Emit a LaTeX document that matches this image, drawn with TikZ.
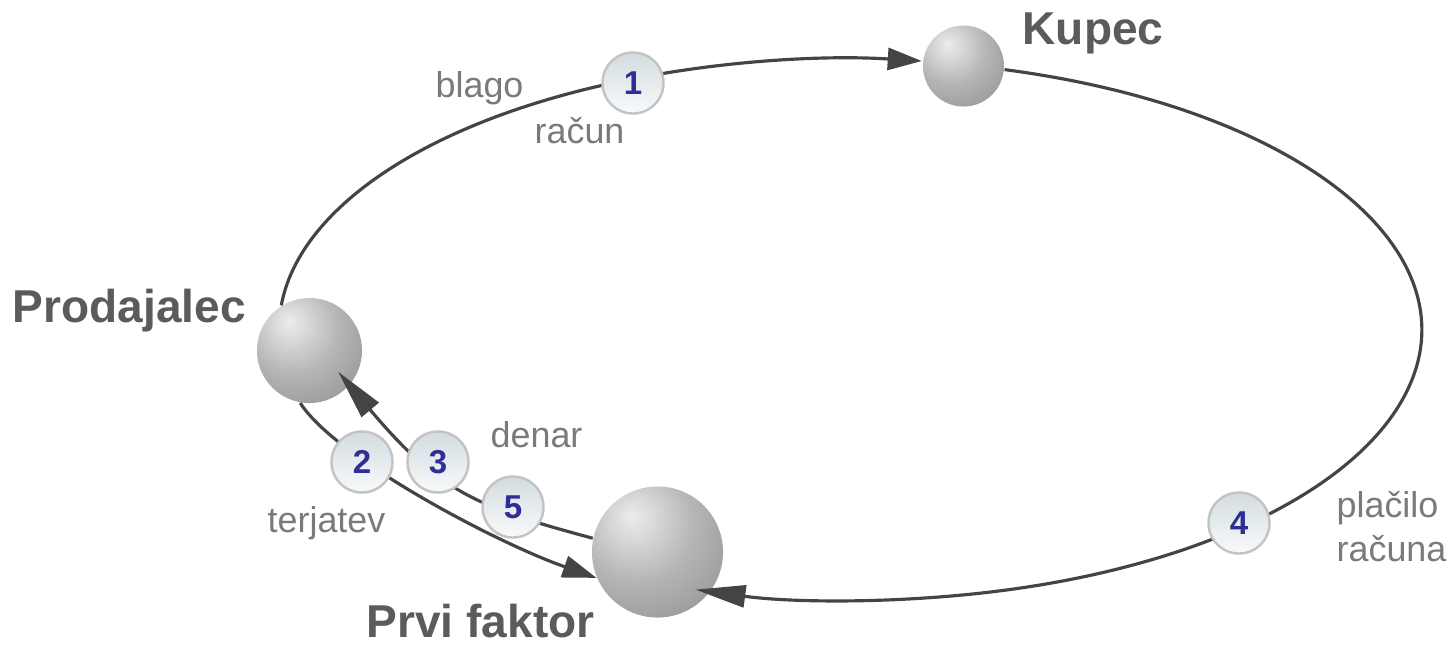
\documentclass[tikz,border=0pt]{standalone}
\usepackage{fontspec}
\setmainfont{Liberation Sans}
\usetikzlibrary{arrows.meta,calc}

\definecolor{linegray}{HTML}{444444}
\definecolor{namegray}{HTML}{5B5B5B}
\definecolor{labelgray}{HTML}{7A7A7A}
\definecolor{numblue}{HTML}{2E2E96}
\definecolor{disctop}{HTML}{D3DCE0}
\definecolor{discbottom}{HTML}{F8FAFB}
\definecolor{discedge}{HTML}{C3C3C3}

% grey sphere, light spot upper left
\pgfdeclareradialshading{sphereball}{\pgfpoint{-10bp}{14bp}}{%
  color(0bp)=(gray!15); color(8bp)=(gray!30); color(22bp)=(gray!58);
  color(35bp)=(gray!75); color(50bp)=(gray!88); color(65bp)=(gray!98);
  color(100bp)=(gray!98)}

\begin{document}
\begin{tikzpicture}[x=0.01cm,y=0.01cm,
  sphere/.style={circle, inner sep=0pt, shading=sphereball},
  flow/.style={draw=linegray, line width=0.9pt},
  tipshort/.style={-{Triangle[length=0.34cm,width=0.22cm]}},
  tiplong/.style={-{Triangle[length=0.5cm,width=0.22cm]}},
  numdisc/.style={circle, minimum size=0.61cm, inner sep=0pt, draw=discedge,
    line width=0.7pt, top color=disctop, bottom color=discbottom,
    text=numblue, font=\fontsize{9.4}{11}\selectfont\bfseries},
  who/.style={font=\fontsize{13.1}{15}\selectfont\bfseries, text=namegray, inner sep=0pt},
  what/.style={font=\fontsize{10.2}{12}\selectfont, text=labelgray, inner sep=0pt}]
  \useasboundingbox (0,0) rectangle (1450,-644);

  % Parties
  \node[sphere, minimum size=1.05cm] (prod) at (309.5,-350.5) {};
  \node[sphere, minimum size=0.81cm] (kupec) at (963.5,-66) {};
  \node[sphere, minimum size=1.31cm] (faktor) at (657.5,-552) {};

  % Outer loop (goods and invoice, then payment)
  \draw[flow, tipshort] (prod.122) arc[start angle=175, end angle=82.6, x radius=5.69cm, y radius=2.7cm];
  \draw[flow, tiplong] (kupec.-5) arc[start angle=74.5, end angle=-106, x radius=5.69cm, y radius=2.7cm];

  % Inner flows between Prodajalec and Prvi faktor
  \draw[flow, tipshort] (prod.-100) .. controls +(35,-55) and +(-100,35) .. (faktor.203);
  \draw[flow, tiplong, shorten >=-0.18cm] (faktor.168) .. controls +(-115,31) and +(90,-107) .. (prod.-41);

  % Steps
  \node[numdisc] (n1) at (633,-83) {1};
  \node[numdisc] (n2) at (362,-462) {2};
  \node[numdisc] (n3) at (438,-462) {3};
  \node[numdisc] (n4) at (1239,-523) {4};
  \node[numdisc] (n5) at (513,-507) {5};

  % Names
  \node[who, anchor=base west] (kupecname) at (1022,-44) {Kupec};
  \node[who, anchor=base west] (prodname) at (12,-322) {Prodajalec};
  \node[who, anchor=base west] (faktorname) at (366,-637) {Prvi faktor};

  % Flow labels
  \node[what, anchor=base west] (blago) at (435,-97) {blago};
  \node[what, anchor=base west] (racun) at (534,-143) {račun};
  \node[what, anchor=base west] (denar) at (490,-447) {denar};
  \node[what, anchor=base west] (terjatev) at (267,-532) {terjatev};
  \node[what, anchor=base west] (placilo) at (1336,-517) {plačilo};
  \node[what, anchor=base west] (racuna) at (1336,-561) {računa};
\end{tikzpicture}
\end{document}
